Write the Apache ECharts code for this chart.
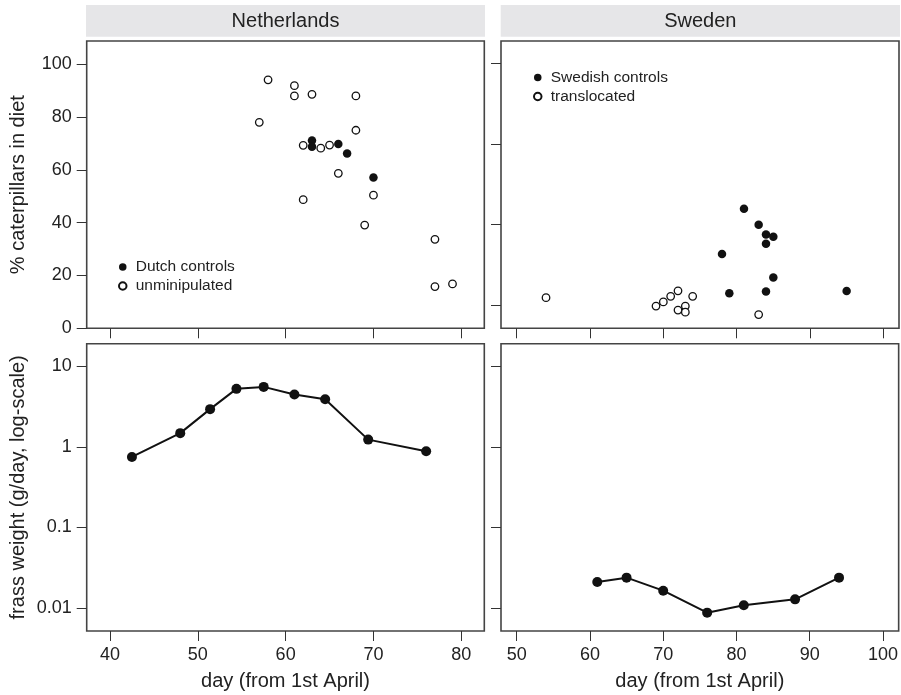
<!DOCTYPE html>
<html>
<head>
<meta charset="utf-8">
<script src="https://cdn.jsdelivr.net/npm/echarts@6/dist/echarts.min.js"></script>
<style>
html,body{margin:0;padding:0;background:#fff;}
#chart{width:901px;height:695px;}
</style>
</head>
<body>
<div id="chart"></div>
<script>
// ---------- data ----------
var panelTitles = ['Netherlands', 'Sweden'];
var legendNL = ['Dutch controls', 'unminipulated'];
var legendSE = ['Swedish controls', 'translocated'];

// % caterpillars in diet, Netherlands [day, %]
var dutchControls = [[63, 71.1], [63, 68.8], [66, 69.8], [67, 66.2], [70, 57.1]];
var unmanipulated = [
  [57, 78], [58, 94.1], [61, 91.9], [61, 88], [63, 88.6], [68, 88], [68, 75],
  [62, 69.3], [64, 68.2], [65, 69.4], [66, 58.7], [62, 48.7], [70, 50.4],
  [69, 39.1], [77, 33.7], [77, 15.8], [79, 16.8]
];
// % caterpillars in diet, Sweden [day, %]
var swedishControls = [
  [81, 45.3], [83, 39.2], [84, 35.5], [85, 34.7], [84, 32.0], [78, 28.1],
  [85, 19.2], [79, 13.3], [84, 13.9], [95, 14.1]
];
var translocated = [
  [54, 11.6], [69, 8.4], [70, 10.0], [71, 12.1], [72, 14.2], [74, 12.1],
  [72, 6.9], [73, 8.4], [73, 6.1], [83, 5.2]
];
// frass weight (g/day) [day, g]
var frassNL = [[42.5, 0.75], [48, 1.48], [51.4, 2.94], [54.4, 5.25], [57.5, 5.55],
  [61, 4.46], [64.5, 3.9], [69.4, 1.23], [76, 0.88]];
var frassSE = [[61, 0.021], [65, 0.0238], [70, 0.0164], [76, 0.00875], [81, 0.0108],
  [88, 0.0128], [94, 0.0238]];

// tick labels
var xTicksNL = [40, 50, 60, 70, 80];
var xTicksSE = [50, 60, 70, 80, 90, 100];
var pctTicks = [0, 20, 40, 60, 80, 100];
var logTicks = [0.01, 0.1, 1, 10];

// ---------- scales ----------
var xNL = {min: 37.35, max: 82.62};
var xSE = {min: 47.86, max: 102.14};
var pct = {min: 0, max: 108.8};
var lg = {min: 0.00518, max: 19.08};
// the Sweden upper panel repeats the tick positions of the log panel
var seTopTicks = logTicks.map(function (v) {
  var f = (Math.log10(v) - Math.log10(lg.min)) / (Math.log10(lg.max) - Math.log10(lg.min));
  return pct.min + f * (pct.max - pct.min);
});

var FONT = '"Liberation Sans", Arial, Helvetica, sans-serif';
var TXT = '#222';
var AX = '#333';

var grids = [
  {left: 86.7, top: 41, width: 397.6, height: 287.3},
  {left: 501, top: 41, width: 398, height: 287.3},
  {left: 86.7, top: 343.7, width: 397.6, height: 287.3},
  {left: 501, top: 343.7, width: 398, height: 287.3}
].map(function (g) {
  g.show = true; g.borderColor = '#444'; g.borderWidth = 1.6; g.backgroundColor = 'transparent';
  g.containLabel = false;
  return g;
});

function xAxis(idx, rng, ticks, showLabels) {
  return {
    type: 'value', gridIndex: idx, min: rng.min, max: rng.max,
    axisLine: {show: false},
    splitLine: {show: false},
    axisTick: {show: true, inside: false, length: 10, customValues: ticks, lineStyle: {color: AX, width: 1}},
    axisLabel: {show: showLabels, customValues: ticks, margin: 15, color: TXT, fontSize: 18, fontFamily: FONT},
    name: showLabels ? 'day (from 1st April)' : '',
    nameLocation: 'middle', nameGap: 40,
    nameTextStyle: {color: TXT, fontSize: 20, fontFamily: FONT}
  };
}
function yAxis(idx, type, rng, ticks, showLabels, name) {
  return {
    type: type, gridIndex: idx, min: rng.min, max: rng.max,
    logBase: 10,
    axisLine: {show: false},
    splitLine: {show: false},
    axisTick: {show: true, inside: false, length: 10, customValues: ticks, lineStyle: {color: AX, width: 1}},
    axisLabel: {show: showLabels, customValues: ticks, margin: 15, color: TXT, fontSize: 18, fontFamily: FONT,
      formatter: function (v) { return String(v); }},
    name: name || '', nameLocation: 'middle', nameGap: 58,
    nameTextStyle: {color: TXT, fontSize: 20, fontFamily: FONT}
  };
}

var filled = {color: '#111', opacity: 1};
var open = {color: '#fff', borderColor: '#111', borderWidth: 1.3, opacity: 1};

var option = {
  animation: false,
  backgroundColor: '#fff',
  textStyle: {fontFamily: FONT},
  grid: grids,
  xAxis: [
    xAxis(0, xNL, xTicksNL, false),
    xAxis(1, xSE, xTicksSE, false),
    xAxis(2, xNL, xTicksNL, true),
    xAxis(3, xSE, xTicksSE, true)
  ],
  yAxis: [
    yAxis(0, 'value', pct, pctTicks, true, '% caterpillars in diet'),
    yAxis(1, 'value', pct, seTopTicks, false, ''),
    yAxis(2, 'log', lg, logTicks, true, 'frass weight (g/day, log-scale)'),
    yAxis(3, 'log', lg, logTicks, false, '')
  ],
  legend: [
    {data: legendNL, orient: 'vertical', left: 113, top: 253, itemWidth: 16, itemHeight: 7.5, itemGap: 1,
      textStyle: {color: TXT, fontSize: 15.5, fontFamily: FONT, lineHeight: 18}, selectedMode: false},
    {data: legendSE, orient: 'vertical', left: 528, top: 63.5, itemWidth: 16, itemHeight: 7.5, itemGap: 1,
      textStyle: {color: TXT, fontSize: 15.5, fontFamily: FONT, lineHeight: 18}, selectedMode: false}
  ],
  graphic: [
    {type: 'rect', left: 86, top: 5, shape: {width: 399, height: 31.7}, style: {fill: '#e6e6e8'}, z: 0},
    {type: 'rect', left: 500.7, top: 5, shape: {width: 399.3, height: 31.7}, style: {fill: '#e6e6e8'}, z: 0},
    {type: 'text', x: 285.5, y: 21, style: {text: panelTitles[0], fill: TXT, font: '20px ' + FONT, textAlign: 'center', textVerticalAlign: 'middle'}, z: 1},
    {type: 'text', x: 700.3, y: 21, style: {text: panelTitles[1], fill: TXT, font: '20px ' + FONT, textAlign: 'center', textVerticalAlign: 'middle'}, z: 1}
  ],
  series: [
    {name: legendNL[1], type: 'scatter', xAxisIndex: 0, yAxisIndex: 0, data: unmanipulated,
      symbol: 'circle', symbolSize: 7.5, itemStyle: open},
    {name: legendNL[0], type: 'scatter', xAxisIndex: 0, yAxisIndex: 0, data: dutchControls,
      symbol: 'circle', symbolSize: 8.5, itemStyle: filled},
    {name: legendSE[1], type: 'scatter', xAxisIndex: 1, yAxisIndex: 1, data: translocated,
      symbol: 'circle', symbolSize: 7.5, itemStyle: open},
    {name: legendSE[0], type: 'scatter', xAxisIndex: 1, yAxisIndex: 1, data: swedishControls,
      symbol: 'circle', symbolSize: 8.5, itemStyle: filled},
    {name: 'frass NL', type: 'line', xAxisIndex: 2, yAxisIndex: 2, data: frassNL,
      symbol: 'circle', symbolSize: 10, showSymbol: true,
      lineStyle: {color: '#111', width: 2}, itemStyle: {color: '#111', borderWidth: 0}},
    {name: 'frass SE', type: 'line', xAxisIndex: 3, yAxisIndex: 3, data: frassSE,
      symbol: 'circle', symbolSize: 10, showSymbol: true,
      lineStyle: {color: '#111', width: 2}, itemStyle: {color: '#111', borderWidth: 0}}
  ]
};
var chart = echarts.init(document.getElementById('chart'), null, {renderer: 'canvas'});
chart.setOption(option);
</script>
</body>
</html>
